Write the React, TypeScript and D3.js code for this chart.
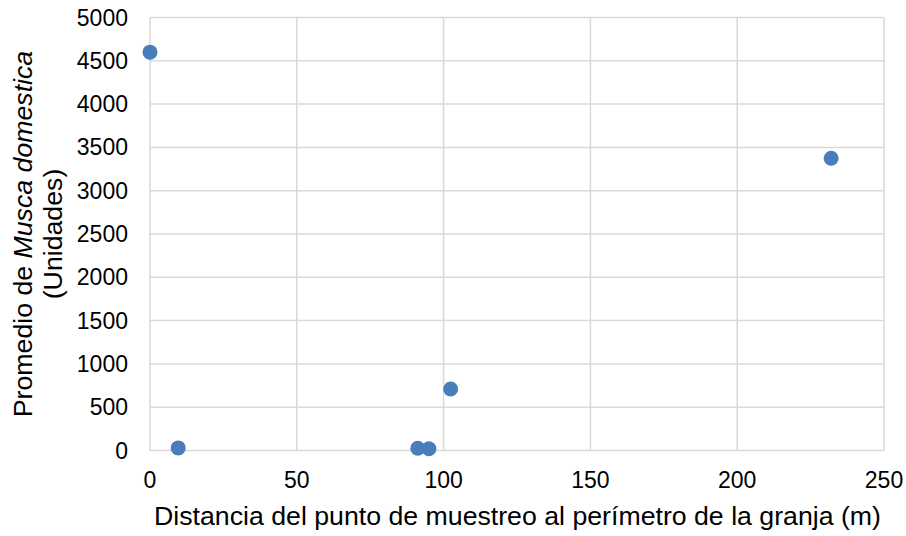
import { useEffect } from "react"
import * as d3 from "d3"

// Distance to the farm perimeter (m) vs mean Musca domestica count
const distances = [0, 9.6, 91.2, 95, 102.4, 232]
const meanCounts = [4600, 30, 26, 20, 710, 3375]
const xTicks = [0, 50, 100, 150, 200, 250]
const yTicks = [0, 500, 1000, 1500, 2000, 2500, 3000, 3500, 4000, 4500, 5000]

const WIDTH = 906
const HEIGHT = 536
const M = { left: 150, right: 22, top: 17.5, bottom: 85.5 }

const GRID = "#d9d9d9"
const DOT = "#4a7ebb"
const FONT = "'Liberation Sans', Arial, sans-serif"

export default function App() {
  useEffect(() => {
    document.body.style.margin = "0"
  }, [])

  const x = d3
    .scaleLinear()
    .domain([0, 250])
    .range([M.left, WIDTH - M.right])
  const y = d3
    .scaleLinear()
    .domain([0, 5000])
    .range([HEIGHT - M.bottom, M.top])

  const points = d3.zip(distances, meanCounts)
  const midY = (y(0) + y(5000)) / 2

  return (
    <svg
      width={WIDTH}
      height={HEIGHT}
      style={{ display: "block", background: "#fff", fontFamily: FONT }}
    >
      {/* gridlines */}
      <g>
        {yTicks.map((t) => (
          <line
            key={`gy${t}`}
            x1={x(0)}
            x2={x(250)}
            y1={y(t)}
            y2={y(t)}
            stroke={GRID}
            strokeWidth={1.5}
          />
        ))}
        {xTicks.map((t) => (
          <line
            key={`gx${t}`}
            x1={x(t)}
            x2={x(t)}
            y1={y(0)}
            y2={y(5000)}
            stroke={GRID}
            strokeWidth={1.5}
          />
        ))}
      </g>

      {/* tick labels */}
      <g fontSize={23} fill="#000">
        {yTicks.map((t) => (
          <text key={`ty${t}`} x={x(0) - 22} y={y(t) + 8} textAnchor="end">
            {t}
          </text>
        ))}
        {xTicks.map((t) => (
          <text key={`tx${t}`} x={x(t)} y={y(0) + 37.5} textAnchor="middle">
            {t}
          </text>
        ))}
      </g>

      {/* points */}
      <g>
        {points.map(([d, c], i) => (
          <circle key={i} cx={x(d)} cy={y(c)} r={7.5} fill={DOT} />
        ))}
      </g>

      {/* axis titles */}
      <text
        x={(x(0) + x(250)) / 2 + 0.5}
        y={525}
        textAnchor="middle"
        fontSize={26.7}
        fill="#000"
      >
        Distancia del punto de muestreo al perímetro de la granja (m)
      </text>
      <g transform={`translate(0, ${midY}) rotate(-90)`} fontSize={26.7} fill="#000">
        <text x={0} y={32} textAnchor="middle">
          Promedio de <tspan fontStyle="italic">Musca domestica</tspan>
        </text>
        <text x={0} y={62} textAnchor="middle">
          (Unidades)
        </text>
      </g>
    </svg>
  )
}
